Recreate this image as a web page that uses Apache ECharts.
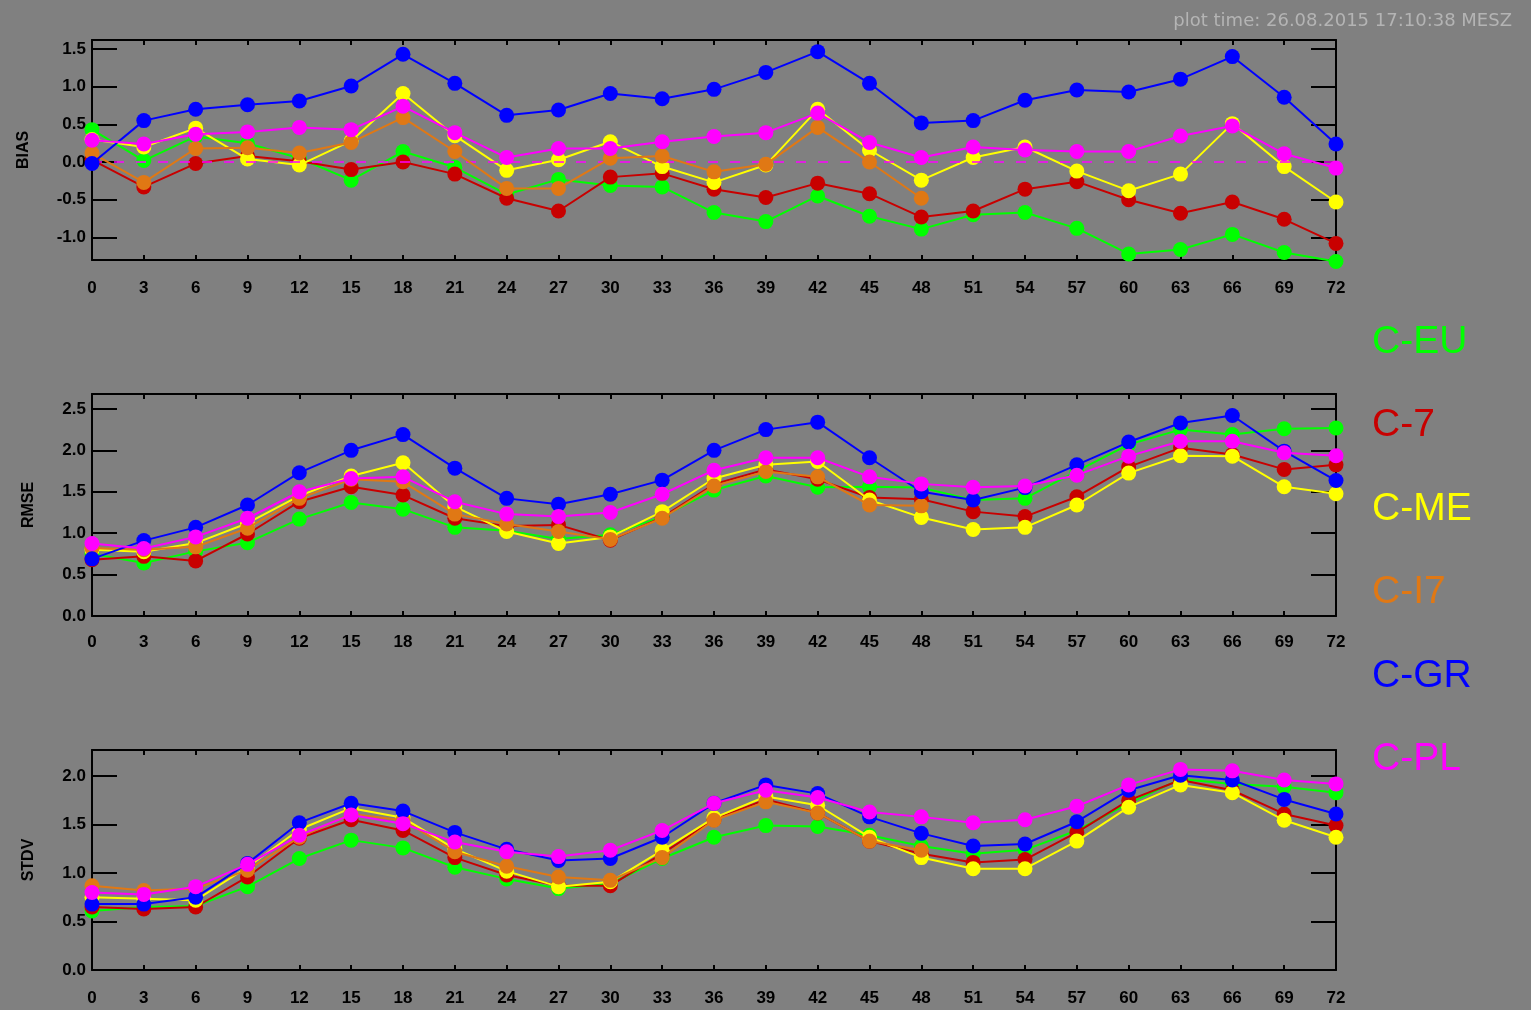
<!DOCTYPE html>
<html>
<head>
<meta charset="utf-8">
<script src="https://cdn.jsdelivr.net/npm/echarts@6/dist/echarts.min.js"></script>
<style>
html,body{margin:0;padding:0;background:#808080;}
#chart{width:1531px;height:1010px;}
</style>
</head>
<body>
<div id="chart"></div>
<script>
var hours = [0,3,6,9,12,15,18,21,24,27,30,33,36,39,42,45,48,51,54,57,60,63,66,69,72];
var seriesNames = ['C-EU','C-7','C-ME','C-I7','C-GR','C-PL'];
var seriesColors = ['#00ff00','#c80000','#ffff00','#e07814','#0000ff','#ff00ff'];

// BIAS
var biasEU = [0.43,0.02,0.34,0.25,0.05,-0.24,0.14,-0.07,-0.43,-0.23,-0.31,-0.33,-0.67,-0.79,-0.45,-0.72,-0.89,-0.70,-0.67,-0.88,-1.22,-1.16,-0.96,-1.20,-1.32];
var bias7  = [0.03,-0.33,-0.02,0.08,0.01,-0.10,0.00,-0.16,-0.48,-0.65,-0.20,-0.15,-0.36,-0.47,-0.28,-0.42,-0.73,-0.65,-0.36,-0.26,-0.50,-0.68,-0.53,-0.76,-1.08];
var biasME = [0.30,0.20,0.45,0.04,-0.04,0.28,0.91,0.35,-0.11,0.03,0.27,-0.06,-0.27,-0.04,0.70,0.16,-0.24,0.06,0.20,-0.12,-0.38,-0.16,0.51,-0.06,-0.53];
var biasI7 = [0.12,-0.27,0.18,0.19,0.12,0.26,0.59,0.14,-0.35,-0.35,0.05,0.08,-0.13,-0.03,0.46,0.00,-0.48,null,null,null,null,null,null,null,null];
var biasGR = [-0.02,0.55,0.70,0.76,0.81,1.01,1.43,1.045,0.62,0.69,0.91,0.84,0.965,1.19,1.465,1.045,0.52,0.55,0.82,0.956,0.93,1.10,1.40,0.86,0.24];
var biasPL = [0.29,0.24,0.37,0.40,0.46,0.43,0.74,0.39,0.06,0.18,0.18,0.27,0.34,0.39,0.65,0.26,0.06,0.20,0.16,0.14,0.14,0.345,0.48,0.11,-0.08];

// RMSE
var rmseEU = [0.75,0.64,0.78,0.885,1.17,1.37,1.29,1.07,1.03,0.93,0.98,1.20,1.52,1.69,1.555,1.56,1.55,1.40,1.42,1.75,2.07,2.25,2.19,2.26,2.27];
var rmse7  = [0.68,0.72,0.665,0.99,1.38,1.56,1.46,1.18,1.085,1.10,0.915,1.19,1.59,1.77,1.65,1.43,1.41,1.26,1.20,1.44,1.80,2.03,1.95,1.77,1.825];
var rmseME = [0.80,0.775,0.88,1.12,1.45,1.69,1.85,1.32,1.02,0.875,0.955,1.26,1.66,1.825,1.865,1.40,1.19,1.045,1.07,1.34,1.725,1.935,1.93,1.56,1.475];
var rmseI7 = [0.82,0.80,0.835,1.06,1.42,1.65,1.62,1.23,1.11,1.02,0.925,1.18,1.57,1.745,1.68,1.34,1.33,null,null,null,null,null,null,null,null];
var rmseGR = [0.69,0.91,1.07,1.34,1.73,2.00,2.19,1.785,1.42,1.35,1.47,1.64,2.00,2.25,2.34,1.91,1.50,1.40,1.55,1.825,2.10,2.33,2.42,1.99,1.635];
var rmsePL = [0.875,0.815,0.955,1.18,1.50,1.66,1.68,1.38,1.23,1.20,1.25,1.47,1.76,1.91,1.91,1.68,1.595,1.555,1.57,1.70,1.93,2.11,2.11,1.97,1.935];

// STDV
var stdvEU = [0.61,0.65,0.66,0.86,1.15,1.34,1.26,1.06,0.94,0.84,0.89,1.15,1.37,1.49,1.48,1.39,1.28,1.20,1.24,1.44,1.72,1.97,1.92,1.89,1.83];
var stdv7  = [0.65,0.63,0.65,0.96,1.36,1.55,1.44,1.16,0.98,0.87,0.87,1.20,1.55,1.76,1.62,1.33,1.20,1.11,1.14,1.42,1.75,1.96,1.855,1.61,1.49];
var stdvME = [0.75,0.735,0.72,1.06,1.45,1.67,1.57,1.25,1.02,0.86,0.91,1.235,1.57,1.79,1.70,1.37,1.16,1.045,1.045,1.33,1.68,1.91,1.83,1.545,1.37];
var stdvI7 = [0.87,0.82,0.84,1.03,1.37,1.61,1.545,1.22,1.07,0.96,0.925,1.16,1.545,1.735,1.62,1.33,1.235,null,null,null,null,null,null,null,null];
var stdvGR = [0.68,0.68,0.75,1.10,1.52,1.72,1.64,1.42,1.245,1.13,1.15,1.37,1.72,1.91,1.82,1.58,1.41,1.28,1.30,1.53,1.855,2.01,1.96,1.76,1.61];
var stdvPL = [0.80,0.78,0.86,1.09,1.39,1.60,1.51,1.32,1.22,1.17,1.235,1.44,1.72,1.855,1.78,1.63,1.58,1.52,1.55,1.69,1.91,2.07,2.055,1.96,1.92];

var biasTicks = [-1.0,-0.5,0.0,0.5,1.0,1.5];
var rmseTicks = [0.0,0.5,1.0,1.5,2.0,2.5];
var stdvTicks = [0.0,0.5,1.0,1.5,2.0];
var panelNames = ['BIAS','RMSE','STDV'];
var plotTime = 'plot time: 26.08.2015 17:10:38 MESZ';

var panels = [
  {name: panelNames[0], data: [biasEU,bias7,biasME,biasI7,biasGR,biasPL], ticks: biasTicks, min: -1.3, max: 1.62, top: 40, height: 220, nameGap: 60, xMargin: 20},
  {name: panelNames[1], data: [rmseEU,rmse7,rmseME,rmseI7,rmseGR,rmsePL], ticks: rmseTicks, min: 0, max: 2.68, top: 394, height: 222, nameGap: 55, xMargin: 18},
  {name: panelNames[2], data: [stdvEU,stdv7,stdvME,stdvI7,stdvGR,stdvPL], ticks: stdvTicks, min: 0, max: 2.27, top: 750, height: 220, nameGap: 55, xMargin: 20}
];

var FONT = 'Liberation Sans';
var grids = [], xAxes = [], yAxes = [], series = [];
var lineCol = '#000000';

panels.forEach(function (p, i) {
  grids.push({left: 92, right: 195, top: p.top, height: p.height, containLabel: false});
  // bottom x axis
  xAxes.push({
    type: 'value', gridIndex: i, min: 0, max: 72, interval: 3, position: 'bottom',
    axisLine: {show: true, onZero: false, lineStyle: {color: lineCol, width: 2}},
    axisTick: {show: true, inside: true, length: 5, lineStyle: {color: lineCol, width: 2}},
    axisLabel: {show: true, margin: p.xMargin, color: '#000', fontSize: 17, fontWeight: 'bold', fontFamily: FONT},
    splitLine: {show: false}
  });
  // top x axis (ticks only)
  xAxes.push({
    type: 'value', gridIndex: i, min: 0, max: 72, interval: 3, position: 'top',
    axisLine: {show: true, onZero: false, lineStyle: {color: lineCol, width: 2}},
    axisTick: {show: true, inside: true, length: 5, lineStyle: {color: lineCol, width: 2}},
    axisLabel: {show: false},
    splitLine: {show: false}
  });
  // left y axis
  yAxes.push({
    type: 'value', gridIndex: i, min: p.min, max: p.max, position: 'left',
    name: p.name, nameLocation: 'middle', nameGap: p.nameGap,
    nameTextStyle: {color: '#000', fontSize: 16, fontWeight: 'bold', fontFamily: FONT},
    axisLine: {show: true, onZero: false, lineStyle: {color: lineCol, width: 2}},
    axisTick: {show: true, inside: true, length: 25, customValues: p.ticks, lineStyle: {color: lineCol, width: 2}},
    axisLabel: {show: true, margin: 6, customValues: p.ticks, color: '#000', fontSize: 17, fontWeight: 'bold', fontFamily: FONT,
      formatter: function (v) { return Number(v).toFixed(1); }},
    splitLine: {show: false}
  });
  // right y axis (ticks only)
  yAxes.push({
    type: 'value', gridIndex: i, min: p.min, max: p.max, position: 'right',
    axisLine: {show: true, onZero: false, lineStyle: {color: lineCol, width: 2}},
    axisTick: {show: true, inside: true, length: 25, customValues: p.ticks, lineStyle: {color: lineCol, width: 2}},
    axisLabel: {show: false},
    splitLine: {show: false}
  });

  p.data.forEach(function (arr, k) {
    var s = {
      name: seriesNames[k], type: 'line',
      xAxisIndex: i * 2, yAxisIndex: i * 2,
      data: hours.map(function (h, j) { return [h, arr[j]]; }),
      symbol: 'circle', symbolSize: 15, showAllSymbol: true,
      connectNulls: false, clip: false,
      itemStyle: {color: seriesColors[k]},
      lineStyle: {color: seriesColors[k], width: 2},
      z: 2 + k
    };
    if (i === 0 && k === 5) {
      s.markLine = {
        silent: true, symbol: ['none', 'none'], label: {show: false},
        lineStyle: {color: '#ff00ff', type: [10, 12], width: 1.5},
        data: [{yAxis: 0}]
      };
    }
    series.push(s);
  });
});

var chart = echarts.init(document.getElementById('chart'), null, {renderer: 'canvas'});
chart.setOption({
  animation: false,
  backgroundColor: '#808080',
  title: {
    text: plotTime, right: 14, top: 7,
    textStyle: {color: '#b4b4b4', fontSize: 18, fontWeight: 'normal', fontFamily: 'DejaVu Sans'}
  },
  legend: {
    orient: 'vertical', left: 1367, top: 320, padding: 0,
    icon: 'none', itemWidth: 0, itemHeight: 10, itemGap: 39.5,
    selectedMode: false,
    textStyle: {fontSize: 39, lineHeight: 44, fontFamily: FONT},
    data: seriesNames.map(function (n, k) { return {name: n, textStyle: {color: seriesColors[k]}}; })
  },
  grid: grids,
  xAxis: xAxes,
  yAxis: yAxes,
  series: series
});
</script>
</body>
</html>
